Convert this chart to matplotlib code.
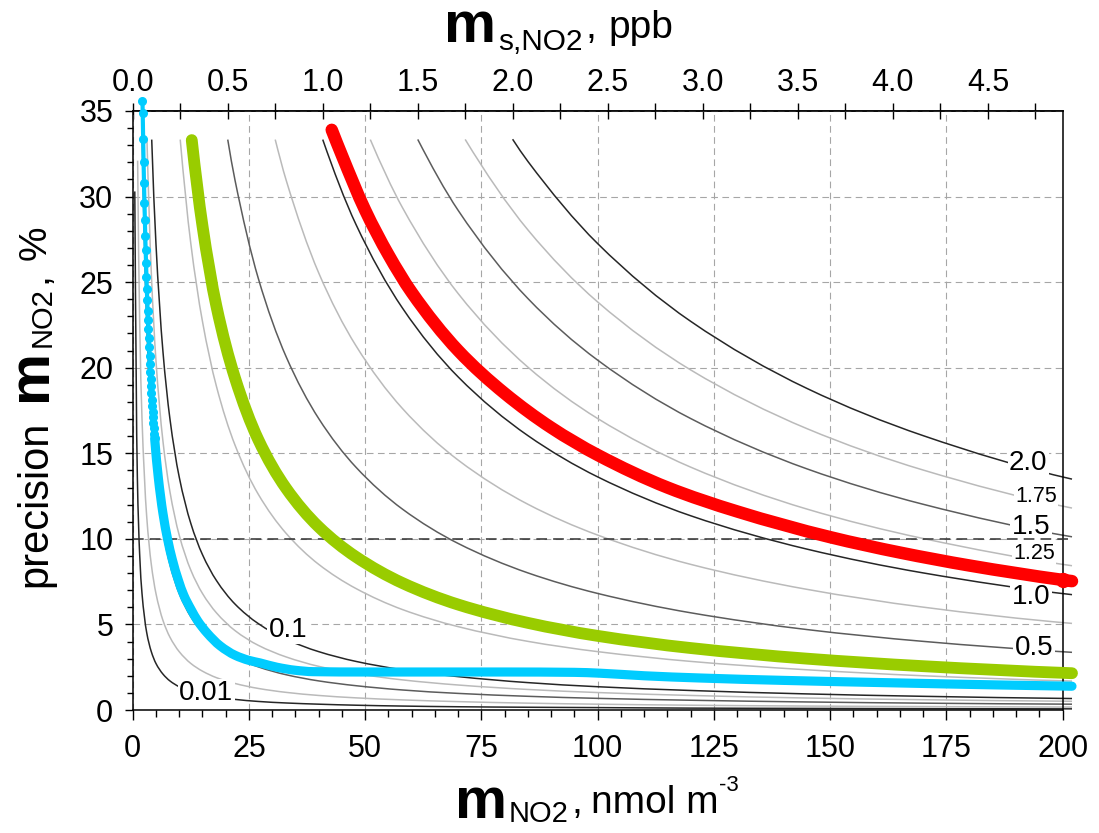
import matplotlib
matplotlib.use('Agg')
import matplotlib.pyplot as plt
from matplotlib.path import Path
from matplotlib.patches import PathPatch
from matplotlib.ticker import FixedLocator, FormatStrFormatter, MultipleLocator

plt.rcParams['font.family'] = ['Liberation Sans', 'DejaVu Sans']

NMOL_PER_PPB = 40.87
W, H = 1099, 833

# shared concentration grid (nmol m-3) for the isolines
m_grid = [1, 1.5, 2, 3, 4, 5, 6.5, 8, 10, 12.5, 15, 18, 22, 27, 33, 40, 48,
          58, 70, 85, 100, 120, 145, 170, 202]

# isolines: first point, then precision (%) on the tail of m_grid
p_iso_001 = [13.62, 9.08, 6.81, 4.54, 3.41, 2.72, 2.10, 1.70, 1.36, 1.09, 0.91, 0.76,
             0.62, 0.50, 0.41, 0.34, 0.28, 0.23, 0.19, 0.16, 0.14, 0.11, 0.094, 0.080, 0.067]
p_iso_0025 = [22.71, 17.03, 11.35, 8.51, 6.81, 5.24, 4.26, 3.41, 2.72, 2.27, 1.89, 1.55,
              1.26, 1.03, 0.85, 0.71, 0.59, 0.49, 0.40, 0.34, 0.28, 0.23, 0.20, 0.17]
p_iso_005 = [22.71, 17.03, 13.62, 10.48, 8.51, 6.81, 5.45, 4.54, 3.78, 3.10, 2.52, 2.06,
             1.70, 1.42, 1.17, 0.97, 0.80, 0.68, 0.57, 0.47, 0.40, 0.34]
p_iso_0075 = [25.54, 20.43, 15.72, 12.77, 10.22, 8.17, 6.81, 5.68, 4.64, 3.78, 3.10, 2.55,
              2.13, 1.76, 1.46, 1.20, 1.02, 0.85, 0.70, 0.60, 0.51]
p_iso_01 = [27.25, 20.96, 17.03, 13.62, 10.90, 9.08, 7.57, 6.19, 5.05, 4.13, 3.41, 2.84,
            2.35, 1.95, 1.60, 1.36, 1.14, 0.94, 0.80, 0.67]
p_iso_025 = [27.25, 22.71, 18.92, 15.48, 12.61, 10.32, 8.51, 7.10, 5.87, 4.87, 4.01, 3.41,
             2.84, 2.35, 2.00, 1.69]
p_iso_05 = [30.96, 25.23, 20.64, 17.03, 14.19, 11.74, 9.73, 8.01, 6.81, 5.68, 4.70, 4.01, 3.37]
p_iso_075 = [30.96, 25.54, 21.29, 17.62, 14.60, 12.02, 10.22, 8.51, 7.05, 6.01, 5.06]
p_iso_10 = [28.38, 23.49, 19.46, 16.03, 13.62, 11.35, 9.40, 8.01, 6.74]
p_iso_125 = [29.36, 24.33, 20.03, 17.03, 14.19, 11.74, 10.02, 8.43]
p_iso_15 = [29.19, 24.04, 20.44, 17.03, 14.09, 12.02, 10.12]
p_iso_175 = [28.05, 23.84, 19.87, 16.44, 14.02, 11.80]
p_iso_20 = [32.05, 27.25, 22.71, 18.79, 16.03, 13.49]

iso_start = [(0.45, 30.3), (1.06, 32.1), (2.04, 33.4), (3.07, 33.3), (4.09, 33.33),
             (10.22, 33.33), (20.44, 33.33), (30.65, 33.33), (40.87, 33.33),
             (51.1, 33.33), (61.3, 33.34), (71.5, 33.34), (81.7, 33.35)]
iso_p = [p_iso_001, p_iso_0025, p_iso_005, p_iso_0075, p_iso_01, p_iso_025, p_iso_05,
         p_iso_075, p_iso_10, p_iso_125, p_iso_15, p_iso_175, p_iso_20]
iso_shade = ['k', 'l', 'm', 'l', 'k', 'l', 'm', 'l', 'k', 'l', 'm', 'l', 'k']
shade_color = {'k': '#262626', 'm': '#5c5c5c', 'l': '#bababa'}

# labels on the isolines: text, m, precision, size
iso_labels = [('0.01', 15.8, 0.99, 20), ('0.1', 33.4, 4.67, 20), ('0.5', 193.8, 3.62, 20),
              ('1.0', 193.2, 6.60, 20), ('1.25', 193.8, 9.17, 15.5), ('1.5', 193.2, 10.69, 20),
              ('1.75', 194.3, 12.50, 15.5), ('2.0', 192.6, 14.43, 20)]

# measured precision curves
red_m = [42.8, 45, 50, 55, 60, 70, 80, 90, 100, 115, 130, 150, 165, 180, 200, 202]
red_p = [33.9, 32.4, 29.2, 26.6, 24.4, 21.0, 18.5, 16.5, 14.9, 13.0, 11.6, 10.1, 9.2, 8.44, 7.6, 7.53]

green_m = [12.7, 15, 18, 22, 27, 33, 40, 48, 58, 70, 85, 100, 120, 145, 170, 202]
green_p = [33.3, 28.3, 23.6, 19.4, 15.8, 12.95, 10.7, 8.95, 7.42, 6.16, 5.09, 4.33, 3.62,
           3.0, 2.56, 2.15]

cyan_dot_m = [2.10, 2.15, 2.25, 2.34, 2.43, 2.53, 2.62, 2.70, 2.79, 2.87, 2.96, 3.04, 3.13,
              3.21, 3.29, 3.37, 3.45, 3.53, 3.62, 3.70, 3.79, 3.87, 3.96, 4.04, 4.13, 4.21,
              4.30, 4.38, 4.47, 4.55, 4.64, 4.72]
cyan_dot_p = [35.6, 34.9, 33.35, 32.04, 30.81, 29.64, 28.63, 27.72, 26.88, 26.1, 25.32, 24.6,
              23.96, 23.33, 22.79, 22.25, 21.72, 21.22, 20.69, 20.24, 19.76, 19.35, 18.91,
              18.54, 18.14, 17.79, 17.42, 17.10, 16.76, 16.46, 16.14, 15.87]
cyan_m = [4.72, 5.5, 6.5, 7.5, 8.5, 9.8, 11, 12.5, 14, 16, 18.8, 22, 25, 27.4, 31, 35, 38.8,
          50, 65, 80, 95, 100.5, 110, 122, 140, 165, 185, 200, 202]
cyan_p = [15.87, 13.6, 11.5, 9.99, 8.81, 7.6, 6.7, 5.9, 5.2, 4.5, 3.75, 3.2, 2.9, 2.75, 2.5,
          2.32, 2.24, 2.22, 2.22, 2.22, 2.2, 2.15, 2.0, 1.87, 1.73, 1.58, 1.47, 1.40, 1.39]

precision_limit = 10

top_major = [0.0, 0.5, 1.0, 1.5, 2.0, 2.5, 3.0, 3.5, 4.0, 4.5]
top_minor = [0.25, 0.75, 1.25, 1.75, 2.25, 2.75, 3.25, 3.75, 4.25, 4.75]


def pchip_slopes(x, y):
    n = len(x)
    h = [x[i + 1] - x[i] for i in range(n - 1)]
    dl = [(y[i + 1] - y[i]) / h[i] for i in range(n - 1)]
    if n == 2:
        return [dl[0], dl[0]]
    d = [0.0] * n
    for k in range(1, n - 1):
        if dl[k - 1] * dl[k] > 0:
            w1 = 2 * h[k] + h[k - 1]
            w2 = h[k] + 2 * h[k - 1]
            d[k] = (w1 + w2) / (w1 / dl[k - 1] + w2 / dl[k])

    def end(h0, h1, d0, d1):
        s = ((2 * h0 + h1) * d0 - h0 * d1) / (h0 + h1)
        if s * d0 <= 0:
            return 0.0
        if d0 * d1 <= 0 and abs(s) > abs(3 * d0):
            return 3 * d0
        return s

    d[0] = end(h[0], h[1], dl[0], dl[1])
    d[-1] = end(h[-1], h[-2], dl[-1], dl[-2])
    return d


def smooth_line(x, y, **kw):
    # monotone cubic through the points, as a bezier path in data coordinates
    d = pchip_slopes(x, y)
    verts = [(x[0], y[0])]
    codes = [Path.MOVETO]
    for i in range(len(x) - 1):
        h = x[i + 1] - x[i]
        verts += [(x[i] + h / 3, y[i] + d[i] * h / 3),
                  (x[i + 1] - h / 3, y[i + 1] - d[i + 1] * h / 3),
                  (x[i + 1], y[i + 1])]
        codes += [Path.CURVE4] * 3
    patch = PathPatch(Path(verts, codes), facecolor='none', clip_on=False, **kw)
    ax.add_patch(patch)
    return patch


fig = plt.figure(figsize=(W / 100, H / 100), dpi=100)
ax = fig.add_axes([132.7 / W, 123 / H, 930 / W, 599 / H])
ax.set_xlim(0, 200)
ax.set_ylim(0, 35)

ax.set_axisbelow(True)
ax.grid(which='major', color='#a6a6a6', linestyle=(0, (6, 4)), linewidth=0.8)

for (m0, p0), p, shade in zip(iso_start, iso_p, iso_shade):
    xs = [m0] + m_grid[-len(p):]
    ys = [p0] + p
    smooth_line(xs, ys, edgecolor=shade_color[shade], lw=1.1, zorder=2)

for txt, lx, ly, size in iso_labels:
    ax.text(lx, ly, txt, fontsize=size, ha='center', va='center', zorder=3,
            bbox=dict(boxstyle='square,pad=0.05', fc='white', ec='none'))

ax.plot([0, 202], [precision_limit, precision_limit], color='#303030', lw=1.1,
        ls=(0, (7, 4)), clip_on=False, zorder=4)

smooth_line(green_m, green_p, edgecolor='#99cc00', lw=8.5, capstyle='round', zorder=5)
smooth_line(red_m, red_p, edgecolor='#ff0000', lw=9, capstyle='round', zorder=5)
ax.plot(red_m[-2:-1], red_p[-2:-1], 'o', color='#ff0000', ms=10, clip_on=False, zorder=5)
smooth_line(cyan_m, cyan_p, edgecolor='#00ccff', lw=6.6, capstyle='round', zorder=6)
smooth_line(cyan_dot_m, cyan_dot_p, edgecolor='#00ccff', lw=3, zorder=6)
ax.plot(cyan_dot_m, cyan_dot_p, 'o', color='#00ccff', ms=5.5, clip_on=False, zorder=6)

# axes, ticks
for sp in ax.spines.values():
    sp.set_linewidth(1.1)
ax.xaxis.set_major_locator(MultipleLocator(25))
ax.xaxis.set_minor_locator(MultipleLocator(5))
ax.yaxis.set_major_locator(MultipleLocator(5))
ax.yaxis.set_minor_locator(MultipleLocator(1))
ax.tick_params(axis='x', which='major', direction='out', length=7.5, width=1,
               labelsize=22, pad=10, top=False)
ax.tick_params(axis='x', which='minor', direction='out', length=5, width=1, top=False)
ax.tick_params(axis='y', which='major', direction='out', length=6, width=1,
               labelsize=22, pad=8, right=False)
ax.tick_params(axis='y', which='minor', direction='out', length=4, width=1, right=False)

secax = ax.secondary_xaxis('top', functions=(lambda m: m / NMOL_PER_PPB,
                                             lambda s: s * NMOL_PER_PPB))
secax.xaxis.set_major_locator(FixedLocator(top_major))
secax.xaxis.set_minor_locator(FixedLocator(top_minor))
secax.xaxis.set_major_formatter(FormatStrFormatter('%.1f'))
secax.tick_params(which='both', direction='inout', length=11, width=1)
secax.tick_params(which='major', labelsize=22, pad=4)
secax.spines['top'].set_linewidth(1.1)


# axis titles built from pieces: (text, size, weight, baseline shift px, gap px)
def chain_text(pieces, x0, y0, vertical=False):
    renderer = fig.canvas.get_renderer()
    pos = x0 if not vertical else y0
    for s, size, weight, shift, gap in pieces:
        pos += gap
        if vertical:
            t = fig.text((x0 - shift) / W, pos / H, s, fontsize=size, fontweight=weight,
                         rotation=90, rotation_mode='anchor', ha='left', va='baseline')
            pos = t.get_window_extent(renderer).y1
        else:
            t = fig.text(pos / W, (y0 + shift) / H, s, fontsize=size, fontweight=weight,
                         ha='left', va='baseline')
            pos = t.get_window_extent(renderer).x1


chain_text([('m', 42, 'bold', 0, 0), ('NO2', 21, 'normal', -4, 2),
            (',', 28, 'normal', 5, 3), ('nmol m', 28, 'normal', 5, 8),
            ('-3', 16, 'normal', 27, 1)], 455, 15)
chain_text([('m', 42, 'bold', 0, 0), ('s,NO2', 21.5, 'normal', -8, 2),
            (',', 28, 'normal', 4, 3), ('ppb', 28, 'normal', 4, 12)], 444, 791)
chain_text([('precision', 30, 'normal', 0, 0), ('m', 42, 'bold', 0, 20),
            ('NO2', 21, 'normal', -5, 2), (',', 28, 'normal', 0, 4),
            ('%', 28, 'normal', 0, 12)], 46, 246, vertical=True)

fig.savefig('out.png', dpi=100)
